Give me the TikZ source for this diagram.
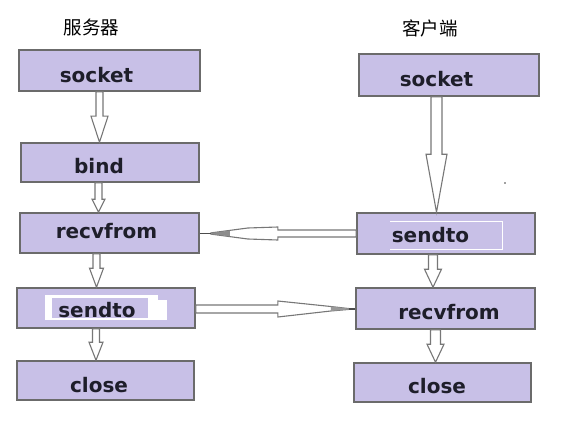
\documentclass[tikz,border=0pt]{standalone}
\usepackage{fontspec}
\setmainfont{DejaVu Sans}
\newfontfamily\cjk{Noto Sans CJK SC}
\usetikzlibrary{calc}
\definecolor{boxfill}{HTML}{C8C0E7}
\definecolor{boxline}{HTML}{6B6B6B}
\definecolor{arrline}{HTML}{777777}
\definecolor{txt}{HTML}{1E1E2A}
\tikzset{
  box/.style={draw=boxline, fill=boxfill, line width=1.6pt, inner sep=0pt, rectangle},
  lbl/.style={anchor=base, inner sep=0pt, text=txt, font=\fontsize{20}{20}\selectfont\bfseries},
  ttl/.style={inner sep=0pt, font=\cjk\fontsize{18.5}{19}\selectfont},
  blk/.style={draw=arrline, fill=white, line width=1.1pt, line join=miter},
  stub/.style={draw=black!70, line width=1.4pt},
}
\newcommand\DArrow[6]{%
  \draw[blk] let \p1=(#1.south), \p2=(#2.north) in
    (#3pt-#4pt,\y1) -- (#3pt-#4pt,\y2+#6pt) -- (#3pt-#5pt,\y2+#6pt) -- (#3pt,\y2)
    -- (#3pt+#5pt,\y2+#6pt) -- (#3pt+#4pt,\y2+#6pt) -- (#3pt+#4pt,\y1) -- cycle;}
\begin{document}
\begin{tikzpicture}[x=1pt,y=-1pt]
\useasboundingbox (0,0) rectangle (575,425);
% titles
\node[ttl] (tserver) at (91.5,27) {服务器};
\node[ttl] (tclient) at (430,28.5) {客户端};
% left column boxes
\node[box, minimum width=181pt, minimum height=41pt] (ls) at (109.5,70.5) {};
\node[box, minimum width=178pt, minimum height=39pt] (lb) at (110,162.5) {};
\node[box, minimum width=179pt, minimum height=40pt] (lr) at (109.5,233) {};
\node[box, minimum width=178pt, minimum height=40pt] (lsd) at (106,308) {};
\node[box, minimum width=177pt, minimum height=39pt] (lc) at (105.5,380.5) {};
% right column boxes
\node[box, minimum width=180pt, minimum height=42pt] (rs) at (449,75) {};
\node[box, minimum width=178pt, minimum height=41pt] (rsd) at (446,233.5) {};
\node[box, minimum width=179pt, minimum height=41pt] (rr) at (445.5,308.5) {};
\node[box, minimum width=177pt, minimum height=39pt] (rc) at (442.5,382.5) {};
% white marks inside sendto boxes
\fill[white] (45,295) rectangle (167,320);
\fill[boxfill] (52,297.5) rectangle (148,318);
\fill[boxfill] (158,295) rectangle (167,300);
\draw[white, line width=1pt] (390,221) -- (502,221) -- (502,249.5);
\draw[white, line width=1.8pt] (502,249.5) -- (390,249.5);
% labels
\node[lbl] (tls) at (96.5,83) {socket};
\node[lbl] (tlb) at (99,173) {bind};
\node[lbl] (tlr) at (106.5,238) {recvfrom};
\node[lbl] (tlsd) at (97,317) {sendto};
\node[lbl] (tlc) at (99,392) {close};
\node[lbl] (trs) at (436.5,87) {socket};
\node[lbl] (trsd) at (430.5,242) {sendto};
\node[lbl] (trr) at (449,319) {recvfrom};
\node[lbl] (trc) at (437,393) {close};
% vertical block arrows
\DArrow{ls}{lb}{99.5}{3.5}{8.5}{26}
\DArrow{lb}{lr}{98.5}{3.5}{6.5}{13}
\DArrow{lr}{lsd}{96.5}{3.5}{7}{19}
\DArrow{lsd}{lc}{96}{3.5}{7}{18}
\DArrow{rs}{rsd}{436.5}{5.5}{10.5}{58}
\DArrow{rsd}{rr}{433}{4.5}{8.5}{18}
\DArrow{rr}{rc}{435.5}{5}{8.5}{18}
% horizontal arrow: client sendto -> server recvfrom
\draw[blk] let \p1=(rsd.west), \p2=(lr.east) in
  (\x1,\y1+3.5pt) -- (\x2+78pt,\y1+3.5pt) -- (\x2+78pt,\y1+6.5pt) -- (\x2+48pt,\y1+5.5pt)
  -- (\x2+11pt,\y1+0.6pt) -- (\x2+11pt,\y1-0.6pt) -- (\x2+48pt,\y1-5.5pt) -- (\x2+78pt,\y1-6.5pt)
  -- (\x2+78pt,\y1-3.5pt) -- (\x1,\y1-3.5pt) -- cycle;
\fill[black!45] let \p1=(rsd.west), \p2=(lr.east) in
  (\x2+11pt,\y1+0.6pt) -- (\x2+30pt,\y1+2.8pt) -- (\x2+30pt,\y1-2.8pt) -- (\x2+11pt,\y1-0.6pt) -- cycle;
\draw[stub] let \p1=(rsd.west), \p2=(lr.east) in (\x2+11pt,\y1) -- (\x2,\y1);
% horizontal arrow: server sendto -> client recvfrom
\draw[blk] let \p1=(lsd.east), \p2=(rr.west) in
  (\x1,\y1-5pt) -- (\x1+82pt,\y1-5pt) -- (\x1+82pt,\y1-9pt) -- (\x1+135pt,\y1-3pt)
  -- (\x2-6pt,\y1-1.4pt) -- (\x2-6pt,\y1-0.6pt) -- (\x1+135pt,\y1+1.5pt) -- (\x1+82pt,\y1+7pt)
  -- (\x1+82pt,\y1+3pt) -- (\x1,\y1+3pt) -- cycle;
\fill[black!40] let \p1=(lsd.east), \p2=(rr.west) in
  (\x1+135pt,\y1-3pt) -- (\x2-6pt,\y1-1.4pt) -- (\x2-6pt,\y1-0.6pt) -- (\x1+135pt,\y1+1.5pt) -- cycle;
\draw[stub] let \p1=(lsd.east), \p2=(rr.west) in (\x2-6pt,\y1-1pt) -- (\x2,\y1-1pt);
% stray dot
\fill[black!75] (505,183) circle (0.8);
\end{tikzpicture}
\end{document}
